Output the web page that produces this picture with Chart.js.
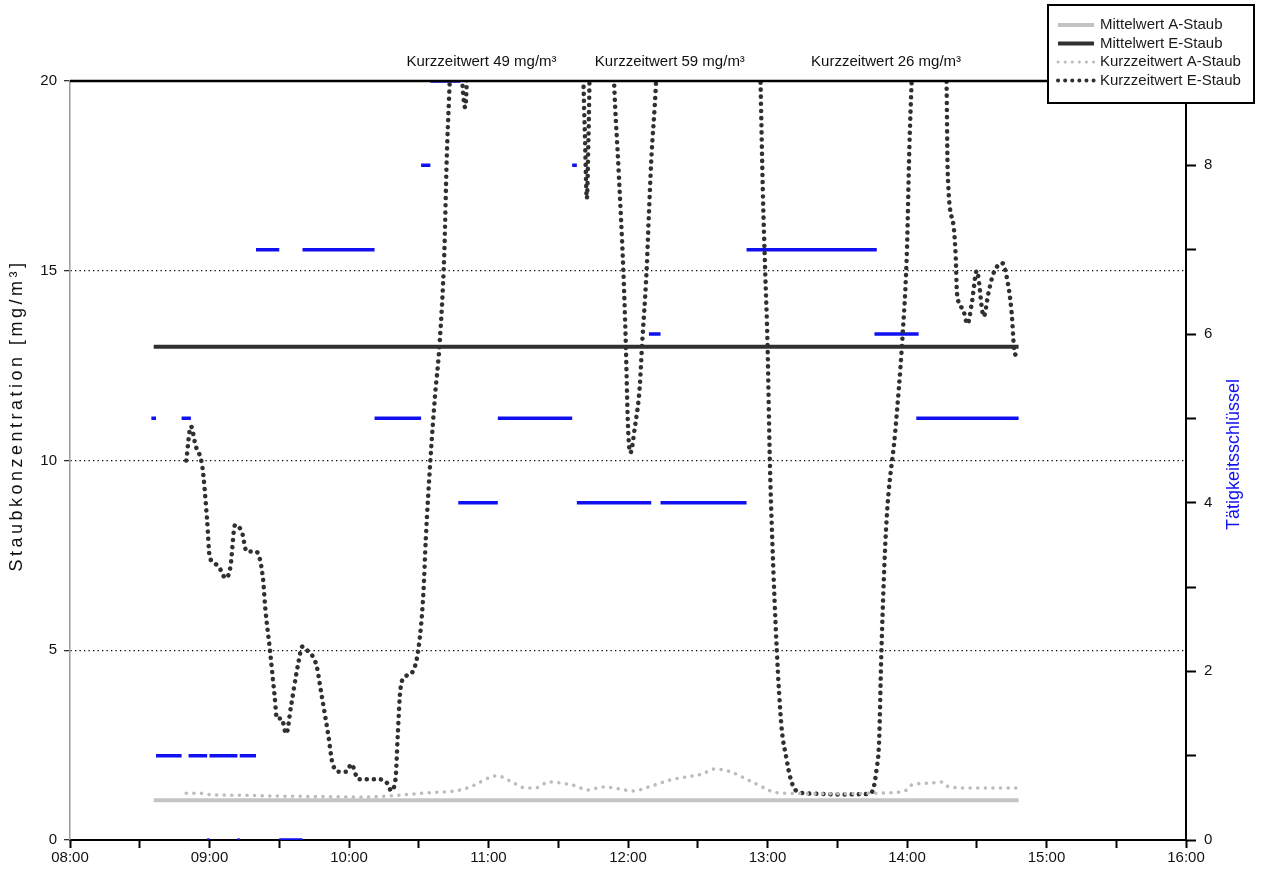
<!DOCTYPE html>
<html>
<head>
<meta charset="utf-8">
<script src="https://cdn.jsdelivr.net/npm/chart.js@4.4.1/dist/chart.umd.min.js"></script>
<style>
  html, body { margin: 0; background: #fff; }
  #wrap { width: 1262px; height: 875px; }
</style>
</head>
<body>
<div id="wrap"><canvas id="staubChart"></canvas></div>
<script>
// Zeiten als "H:MM", Werte in mg/m³ bzw. Tätigkeitsschlüssel
var eTimes = ['8:50','8:52','8:54','8:57','8:59','9:00','9:02','9:04','9:07','9:09','9:11','9:14','9:16','9:20','9:23','9:24','9:26','9:28','9:29','9:31','9:33','9:35','9:38','9:40','9:42','9:46','9:48','9:51','9:53','9:56','9:59','10:01','10:04','10:08','10:13','10:17','10:18','10:20','10:21','10:22','10:24','10:27','10:30','10:32','10:33','10:35','10:37','10:39','10:41','10:42','10:43','10:44','10:46','10:48.5','10:50','10:50.8','11:00','11:30','11:40','11:40.6','11:41.5','11:42.3','11:43','11:43.6','11:48','11:53','11:54','11:56','11:58','11:59','12:00','12:01','12:03','12:05','12:06','12:08','12:09','12:10','12:12','12:14','12:35','12:56','12:57','12:58','12:59','13:00','13:01','13:02','13:04','13:06','13:08','13:10','13:13','13:20','13:30','13:43','13:45','13:47','13:48','13:49','13:51','13:55','13:58','14:00','14:01','14:02','14:04','14:10','14:16','14:17','14:17.5','14:20','14:21','14:21.5','14:24','14:26','14:28','14:30','14:33','14:35','14:37','14:41','14:43','14:45','14:46','14:47'];
var eValues = [10.0,10.9,10.4,9.8,8.4,7.5,7.3,7.2,6.9,7.2,8.3,8.1,7.6,7.6,6.9,6.1,5.0,3.8,3.2,3.2,2.8,3.5,4.6,5.1,5.0,4.6,3.9,2.8,2.0,1.8,1.8,2.0,1.6,1.6,1.6,1.45,1.3,1.6,2.8,3.9,4.3,4.4,5.1,6.5,7.9,10.0,11.7,13.1,15.5,17.9,19.5,21,24,20.2,19.3,20.3,49,35,22,20.5,18.5,16.9,18.5,20.5,30,22,20,17.6,15.0,13.2,10.9,10.2,10.9,11.9,13.0,15.0,16.5,17.9,19.9,23,59,23,20,17.1,15.0,13.1,10.0,8.0,5.0,3.0,2.2,1.6,1.27,1.22,1.2,1.21,1.27,1.9,2.6,5.0,8.2,10.8,13.2,15.6,18.2,20,23,26,22,20,17.6,16.2,15.3,14.4,14.0,13.6,14.2,15.0,13.8,14.4,14.9,15.2,14.8,13.9,13.0,12.7];

var aTimes = ['8:50','8:56','9:01','9:13','9:27','9:39','9:53','10:05','10:19','10:33','10:48','10:54','11:01','11:04','11:10','11:16','11:20','11:26','11:31','11:36','11:43','11:49','11:56','12:02','12:09','12:18','12:25','12:32','12:37','12:44','12:51','12:57','13:01','13:05','13:27','13:51','14:00','14:02','14:10','14:15','14:18','14:28','14:47'];
var aValues = [1.23,1.23,1.19,1.18,1.16,1.15,1.14,1.13,1.17,1.24,1.32,1.45,1.66,1.69,1.53,1.37,1.37,1.53,1.5,1.45,1.32,1.4,1.35,1.29,1.4,1.58,1.66,1.74,1.87,1.8,1.6,1.42,1.3,1.24,1.22,1.24,1.32,1.45,1.5,1.53,1.4,1.37,1.37];

var meanStart = '8:36';
var meanEnd = '14:48';
var meanA = 1.05;
var meanE = 13.0;

var codeStarts = ['8:35','8:37','8:48','8:51','8:59','9:00','9:12','9:13','9:20','9:30','9:40','10:11','10:31','10:35','10:47','11:04','11:36','11:38','12:09','12:14','12:51','13:46','14:04'];
var codeEnds   = ['8:37','8:48','8:52','8:59','9:00','9:12','9:13','9:20','9:30','9:40','10:11','10:31','10:35','10:48','11:04','11:36','11:38','12:10','12:14','12:51','13:47','14:05','14:48'];
var codeValues = [5,1,5,1,0,1,0,1,7,0,7,5,8,9,4,5,8,4,6,4,7,6,5];

var peakTimes = ['10:57','12:18','13:51'];
var peakLabels = ['Kurzzeitwert 49 mg/m³','Kurzzeitwert 59 mg/m³','Kurzzeitwert 26 mg/m³'];

var yTicksLeft = [0, 5, 10, 15, 20];

function toH(t) {
  var p = t.split(':');
  return +p[0] + parseFloat(p[1]) / 60;
}
function pts(times, vals) {
  return times.map(function (t, i) { return { x: toH(t), y: vals[i] }; });
}

var codePts = [];
codeStarts.forEach(function (s, i) {
  codePts.push({ x: toH(s), y: codeValues[i] });
  codePts.push({ x: toH(codeEnds[i]), y: codeValues[i] });
  codePts.push({ x: toH(codeEnds[i]), y: null });
});

var FONT = '"Liberation Sans", Arial, sans-serif';
var BLUE = '#1010f0';

var extras = {
  id: 'extras',
  afterDraw: function (chart) {
    var ctx = chart.ctx, a = chart.chartArea, xs = chart.scales.x;
    var midY = (a.top + a.bottom) / 2;
    ctx.save();
    // obere Rahmenlinie
    ctx.strokeStyle = '#000';
    ctx.lineWidth = 2.5;
    ctx.beginPath();
    ctx.moveTo(a.left, a.top);
    ctx.lineTo(a.right, a.top);
    ctx.stroke();

    // Kurzzeitwert-Beschriftungen
    ctx.fillStyle = '#111';
    ctx.font = '15px ' + FONT;
    ctx.textAlign = 'center';
    ctx.textBaseline = 'middle';
    peakTimes.forEach(function (t, i) {
      ctx.fillText(peakLabels[i], xs.getPixelForValue(toH(t)), a.top - 19);
    });

    // Achsentitel
    ctx.save();
    ctx.translate(17, midY - 45);
    ctx.rotate(-Math.PI / 2);
    ctx.fillStyle = '#111';
    ctx.font = '18px ' + FONT;
    ctx.letterSpacing = '3.5px';
    ctx.fillText('Staubkonzentration [mg/m³]', 0, 0);
    ctx.restore();

    ctx.save();
    ctx.translate(1234, midY - 6);
    ctx.rotate(-Math.PI / 2);
    ctx.fillStyle = BLUE;
    ctx.font = '18px ' + FONT;
    ctx.fillText('Tätigkeitsschlüssel', 0, 0);
    ctx.restore();

    // Legende
    var lx = 1048, ly = 5, lw = 206, lh = 98;
    ctx.fillStyle = '#fff';
    ctx.fillRect(lx, ly, lw, lh);
    ctx.strokeStyle = '#000';
    ctx.lineWidth = 2;
    ctx.strokeRect(lx, ly, lw, lh);
    ctx.textAlign = 'left';
    ctx.font = '15px ' + FONT;
    chart.data.datasets.slice(0, 4).forEach(function (ds, i) {
      var y = ly + 20 + i * 18.5;
      ctx.beginPath();
      ctx.strokeStyle = ds.borderColor;
      ctx.lineWidth = ds.dotted ? ds.borderWidth - 0.5 : 4;
      ctx.lineCap = ds.dotted ? 'round' : 'butt';
      ctx.setLineDash(ds.dotted ? [0.1, 7] : []);
      ctx.moveTo(lx + 10, y);
      ctx.lineTo(lx + 46, y);
      ctx.stroke();
      ctx.setLineDash([]);
      ctx.fillStyle = '#1a1a1a';
      ctx.fillText(ds.label, lx + 52, y);
    });
    ctx.restore();
  }
};

var canvas = document.getElementById('staubChart');
var chart = new Chart(canvas.getContext('2d'), {
  type: 'line',
  data: {
    datasets: [
      {
        label: 'Mittelwert A-Staub',
        data: [{ x: toH(meanStart), y: meanA }, { x: toH(meanEnd), y: meanA }],
        borderColor: '#c4c4c4', borderWidth: 4, pointRadius: 0
      },
      {
        label: 'Mittelwert E-Staub',
        data: [{ x: toH(meanStart), y: meanE }, { x: toH(meanEnd), y: meanE }],
        borderColor: '#303030', borderWidth: 4, pointRadius: 0
      },
      {
        label: 'Kurzzeitwert A-Staub', dotted: true,
        data: pts(aTimes, aValues),
        borderColor: '#bcbcbc', borderWidth: 3.5, borderDash: [0.1, 7.5], borderCapStyle: 'round',
        cubicInterpolationMode: 'monotone', pointRadius: 0
      },
      {
        label: 'Kurzzeitwert E-Staub', dotted: true,
        data: pts(eTimes, eValues),
        borderColor: '#303030', borderWidth: 4.5, borderDash: [0.1, 7], borderCapStyle: 'round',
        cubicInterpolationMode: 'monotone', pointRadius: 0
      },
      {
        label: 'Tätigkeitsschlüssel',
        data: codePts,
        yAxisID: 'y1',
        borderColor: BLUE, borderWidth: 3.5, pointRadius: 0, spanGaps: false
      }
    ]
  },
  options: {
    responsive: true,
    maintainAspectRatio: false,
    animation: false,
    layout: { padding: { top: 81, left: 0, right: 0, bottom: 0 } },
    plugins: { legend: { display: false }, tooltip: { enabled: false } },
    scales: {
      x: {
        type: 'linear', min: 8, max: 16,
        afterFit: function (s) { s.height = 35; },
        ticks: {
          stepSize: 0.5, autoSkip: false, maxRotation: 0, padding: 1,
          color: '#111', font: { size: 15, family: FONT },
          callback: function (v) { return Number.isInteger(v) ? String(v).padStart(2, '0') + ':00' : ''; }
        },
        grid: { drawOnChartArea: false, tickLength: 8, tickColor: '#000', tickWidth: 2 },
        border: { color: '#000', width: 2 }
      },
      y: {
        position: 'left', min: 0, max: 20,
        afterFit: function (s) { s.width = 70; },
        afterBuildTicks: function (s) { s.ticks = yTicksLeft.map(function (v) { return { value: v }; }); },
        ticks: { padding: 7, color: '#111', font: { size: 15, family: FONT } },
        grid: {
          tickLength: 6, tickColor: '#333', tickBorderDash: [], lineWidth: 1.3,
          color: function (c) { return (c.tick && c.tick.value > 0 && c.tick.value < 20) ? '#000' : 'rgba(0,0,0,0)'; }
        },
        border: { color: '#9a9a9a', width: 1.5, dash: [1.3, 3.2] },
        title: { display: false }
      },
      y1: {
        position: 'right', min: 0, max: 9,
        afterFit: function (s) { s.width = 76; },
        ticks: {
          stepSize: 1, padding: 8, color: '#111', font: { size: 15, family: FONT },
          callback: function (v) { return v % 2 === 0 ? String(v) : ''; }
        },
        grid: { drawOnChartArea: false, tickLength: 10, tickColor: '#000', tickWidth: 2 },
        border: { color: '#000', width: 2 }
      }
    }
  },
  plugins: [extras]
});
</script>
</body>
</html>
